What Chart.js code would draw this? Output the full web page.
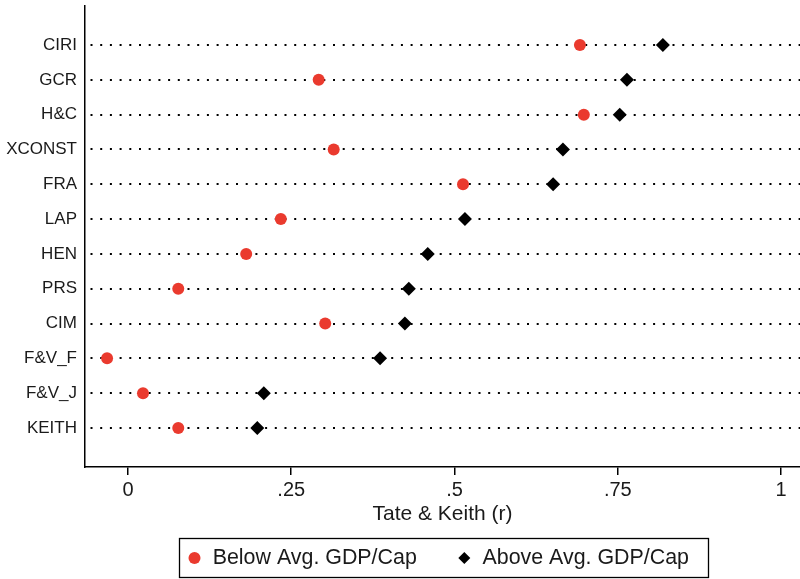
<!DOCTYPE html>
<html>
<head>
<meta charset="utf-8">
<script src="https://cdn.jsdelivr.net/npm/chart.js@4"></script>
<style>
  body { margin: 0; background: #fff; }
  #wrap { width: 800px; height: 579px; }
</style>
</head>
<body>
<div id="wrap"><canvas id="chart" width="800" height="579"></canvas></div>
<script>
// measures, top to bottom
const measures = ['CIRI', 'GCR', 'H&C', 'XCONST', 'FRA', 'LAP', 'HEN', 'PRS', 'CIM', 'F&V_F', 'F&V_J', 'KEITH'];

// correlation with Tate & Keith, by income group
const belowAvg = [0.692, 0.292, 0.698, 0.315, 0.513, 0.234, 0.181, 0.077, 0.302, -0.032, 0.023, 0.077];
const aboveAvg = [0.819, 0.764, 0.753, 0.666, 0.651, 0.516, 0.459, 0.430, 0.424, 0.386, 0.208, 0.198];

const xTicks = [0, 0.25, 0.5, 0.75, 1];
const xTickLabels = ['0', '.25', '.5', '.75', '1'];

const FONT = "'Liberation Sans', Arial, Helvetica, sans-serif";
const TEXT = '#1a1a1a';
const RED = '#ea3a2e';

// box drawn round the legend, and legend moved under the plot centre
const legendBox = {
    id: 'legendBox',
    afterLayout(chart) {
        const lg = chart.legend;
        const centre = 438;
        lg.left = centre - 436;
        lg.right = centre + 436;
        const pad = lg.options.labels.padding;
        const itemH = lg.legendHitBoxes.length ? lg.legendHitBoxes[0].height : 25;
        lg.top = 558 - pad - itemH / 2;
        lg.bottom = chart.height;
        lg.height = lg.bottom - lg.top;
        lg.width = lg.right - lg.left;
    },
    afterDraw(chart) {
        const lg = chart.legend;
        const pad = lg.options.labels.padding;
        const span = lg.lineWidths[0] - pad;
        const centre = (lg.left + lg.right) / 2;
        const start = centre - span / 2;
        const ctx = chart.ctx;
        ctx.save();
        ctx.strokeStyle = '#000';
        ctx.lineWidth = 1.3;
        ctx.strokeRect(start - 7.5, 538.5, span + 27, 39);
        ctx.restore();
    }
};

const ctx = document.getElementById('chart').getContext('2d');

new Chart(ctx, {
    type: 'scatter',
    data: {
        datasets: [
            {
                label: 'Below Avg. GDP/Cap',
                data: belowAvg.map((v, i) => ({ x: v, y: i })),
                backgroundColor: RED,
                borderColor: RED,
                borderWidth: 0,
                pointStyle: 'circle',
                pointRadius: 6,
                pointHoverRadius: 6,
            },
            {
                label: 'Above Avg. GDP/Cap',
                data: aboveAvg.map((v, i) => ({ x: v, y: i })),
                backgroundColor: '#000',
                borderColor: '#000',
                borderWidth: 0,
                pointStyle: 'rectRot',
                pointRadius: 7,
                pointHoverRadius: 7,
            },
        ],
    },
    options: {
        responsive: false,
        animation: false,
        layout: { autoPadding: false, padding: { top: 6, right: 0, bottom: 0, left: 0 } },
        plugins: {
            tooltip: { enabled: false },
            legend: {
                position: 'bottom',
                maxHeight: 52,
                labels: {
                    usePointStyle: true,
                    boxWidth: 15,
                    boxHeight: 8.5,
                    padding: 40,
                    color: TEXT,
                    font: { family: FONT, size: 21.4 },
                },
            },
        },
        scales: {
            x: {
                type: 'linear',
                min: -0.0658,
                max: 1.029,
                afterBuildTicks: (scale) => {
                    scale.ticks = xTicks.map(v => ({ value: v }));
                },
                afterFit: (scale) => {
                    scale.height = 60;
                    scale.paddingLeft = 0;
                    scale.paddingRight = 0;
                },
                border: { display: true, color: '#000', width: 1.5 },
                grid: {
                    drawOnChartArea: false,
                    drawTicks: true,
                    tickLength: 8,
                    color: '#000',
                    lineWidth: 1.5,
                },
                ticks: {
                    padding: 3,
                    color: TEXT,
                    font: { family: FONT, size: 20 },
                    maxRotation: 0,
                    callback: (v) => xTickLabels[xTicks.indexOf(v)],
                },
                title: {
                    display: true,
                    text: 'Tate & Keith (r)',
                    color: TEXT,
                    font: { family: FONT, size: 21 },
                    padding: { top: 0, bottom: 0 },
                },
            },
            y: {
                type: 'linear',
                reverse: true,
                min: -1.12,
                max: 12.12,
                afterBuildTicks: (scale) => {
                    scale.ticks = measures.map((m, i) => ({ value: i }));
                },
                afterFit: (scale) => {
                    scale.width = 85;
                    scale.paddingTop = 0;
                    scale.paddingBottom = 0;
                },
                border: { display: true, color: '#000', width: 1.5, dash: [2, 7.7], dashOffset: -5 },
                grid: {
                    drawTicks: false,
                    color: '#000',
                    lineWidth: 2,
                },
                ticks: {
                    padding: 8,
                    color: TEXT,
                    font: { family: FONT, size: 17 },
                    callback: (v) => measures[v],
                },
            },
        },
    },
    plugins: [legendBox],
});
</script>
</body>
</html>
